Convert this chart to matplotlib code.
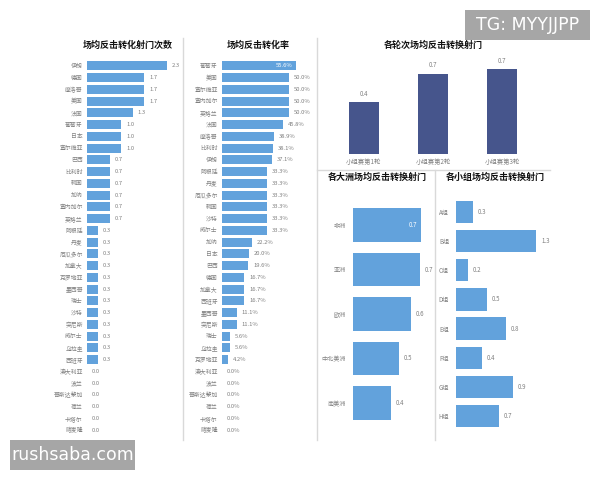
import matplotlib

matplotlib.use("Agg")

import matplotlib.pyplot as plt  # noqa: E402
from matplotlib.lines import Line2D  # noqa: E402
from matplotlib.patches import Rectangle  # noqa: E402

plt.rcParams["font.family"] = ["Noto Sans CJK SC", "DejaVu Sans"]

# --- data -------------------------------------------------------------
shot_teams = [
    "伊朗", "德国", "摩洛哥", "美国", "法国", "葡萄牙", "日本", "塞尔维亚",
    "巴西", "比利时", "韩国", "加纳", "塞内加尔", "英格兰", "阿根廷", "丹麦",
    "厄瓜多尔", "加拿大", "克罗地亚", "墨西哥", "瑞士", "沙特", "突尼斯", "威尔士",
    "乌拉圭", "西班牙", "澳大利亚", "波兰", "哥斯达黎加", "荷兰", "卡塔尔", "喀麦隆",
]
shot_values = [
    2.33, 1.67, 1.67, 1.67, 1.33, 1.0, 1.0, 1.0,
    0.67, 0.67, 0.67, 0.67, 0.67, 0.67, 0.33, 0.33,
    0.33, 0.33, 0.33, 0.33, 0.33, 0.33, 0.33, 0.33,
    0.33, 0.33, 0.0, 0.0, 0.0, 0.0, 0.0, 0.0,
]

rate_teams = [
    "葡萄牙", "美国", "塞尔维亚", "塞内加尔", "英格兰", "法国", "摩洛哥", "比利时",
    "伊朗", "阿根廷", "丹麦", "厄瓜多尔", "韩国", "沙特", "威尔士", "加纳",
    "日本", "巴西", "德国", "加拿大", "西班牙", "墨西哥", "突尼斯", "瑞士",
    "乌拉圭", "克罗地亚", "澳大利亚", "波兰", "哥斯达黎加", "荷兰", "卡塔尔", "喀麦隆",
]
rate_values = [
    55.6, 50.0, 50.0, 50.0, 50.0, 45.8, 38.9, 38.1,
    37.1, 33.3, 33.3, 33.3, 33.3, 33.3, 33.3, 22.2,
    20.0, 19.6, 16.7, 16.7, 16.7, 11.1, 11.1, 5.6,
    5.6, 4.2, 0.0, 0.0, 0.0, 0.0, 0.0, 0.0,
]

rounds = ["小组赛第1轮", "小组赛第2轮", "小组赛第3轮"]
round_values = [0.44, 0.685, 0.72]

continents = ["非洲", "亚洲", "欧洲", "中北美洲", "南美洲"]
continent_values = [0.70, 0.69, 0.59, 0.47, 0.39]

groups = ["A组", "B组", "C组", "D组", "E组", "F组", "G组", "H组"]
group_values = [0.27, 1.3, 0.19, 0.5, 0.8, 0.42, 0.92, 0.7]

# --- style ------------------------------------------------------------
W, H = 600, 480
BAR = "#62A2DC"
NAVY = "#46558C"
GRAY = "#808080"
SEP = "#D9D9D9"
MARK = "#A6A6A6"

fig = plt.figure(figsize=(W / 100, H / 100), dpi=100)


def px_axes(x0, y0, x1, y1):
    """Axes placed by pixel box (top-left origin, like the screenshot)."""
    return fig.add_axes([x0 / W, 1 - y1 / H, (x1 - x0) / W, (y1 - y0) / H])


def px_title(x, y, text, size=6.5):
    fig.text(x / W, 1 - y / H, text, ha="center", va="center",
             fontsize=size, fontweight="bold", color="#111111")


def px_line(x0, y0, x1, y1):
    fig.add_artist(Line2D([x0 / W, x1 / W], [1 - y0 / H, 1 - y1 / H],
                          color=SEP, lw=1.0, transform=fig.transFigure))


def clean(ax):
    for s in ax.spines.values():
        s.set_visible(False)


def hbar_panel(ax, labels, values, fmt, xmax, height=0.76, labelsize=4.2,
               inside=(), pad=3):
    y = list(range(len(labels)))
    ax.barh(y, values, height=height, color=BAR)
    ax.set_ylim(len(labels) - 0.5, -0.5)
    ax.set_xlim(0, xmax)
    ax.set_yticks(y, labels)
    ax.set_xticks([])
    ax.tick_params(axis="y", length=0, pad=pad, labelsize=labelsize, labelcolor=GRAY)
    clean(ax)
    for i, v in enumerate(values):
        if i in inside:
            ax.annotate(fmt.format(v), (v, i), xytext=(-3, 0), textcoords="offset points",
                        ha="right", va="center", fontsize=labelsize, color="white")
        else:
            ax.annotate(fmt.format(v), (v, i), xytext=(3.5, 0), textcoords="offset points",
                        ha="left", va="center", fontsize=labelsize, color=GRAY)


# panel 1: counter-attack shots per match
ax1 = px_axes(87, 60, 180, 436)
hbar_panel(ax1, shot_teams, shot_values, "{:.1f}", 2.71, height=0.75)
px_title(128, 45, "场均反击转化射门次数")

# panel 2: conversion rate
ax2 = px_axes(222, 60, 310, 436)
hbar_panel(ax2, rate_teams, rate_values, "{:.1f}%", 65.7, height=0.75, inside=(0,))
px_title(258, 45, "场均反击转化率")

# panel 3: per round
ax3 = px_axes(329.5, 60, 536.5, 154)
ax3.bar(range(len(rounds)), round_values, width=0.43, color=NAVY)
ax3.set_xlim(-0.5, len(rounds) - 0.5)
ax3.set_ylim(0, 0.8)
ax3.set_yticks([])
ax3.set_xticks(range(len(rounds)), rounds)
ax3.tick_params(axis="x", length=0, pad=3, labelsize=4.6, labelcolor=GRAY)
clean(ax3)
for i, v in enumerate(round_values):
    ax3.annotate(f"{v:.1f}", (i, v), xytext=(0, 3), textcoords="offset points",
                 ha="center", va="bottom", fontsize=4.4, color=GRAY)
px_title(433, 45, "各轮次场均反击转换射门")

# panel 4: per continent
ax4 = px_axes(353, 202.75, 430, 425.25)
hbar_panel(ax4, continents, continent_values, "{:.1f}", 0.79, labelsize=4.4,
           inside=(0,), pad=5)
px_title(377, 177, "各大洲场均反击转换射门")

# panel 5: per group
ax5 = px_axes(456, 197.4, 560, 430.6)
hbar_panel(ax5, groups, group_values, "{:.1f}", 1.68, labelsize=4.4, pad=5)
px_title(495, 177, "各小组场均反击转换射门")

# panel separators
px_line(183, 38, 183, 440)
px_line(317, 38, 317, 440)
px_line(317, 170, 550, 170)
px_line(435, 170, 435, 440)

# watermarks
for (x0, y0, x1, y1), text in [((465, 10, 590, 40), "TG: MYYJJPP"),
                               ((10, 440, 135, 470), "rushsaba.com")]:
    fig.add_artist(Rectangle((x0 / W, 1 - y1 / H), (x1 - x0) / W, (y1 - y0) / H,
                             transform=fig.transFigure, facecolor=MARK, edgecolor="none"))
    fig.text((x0 + x1) / 2 / W, 1 - (y0 + y1) / 2 / H, text, ha="center", va="center",
             fontsize=12.5, color="white", family=["DejaVu Sans"])

fig.savefig("out.png", dpi=100)
plt.close(fig)
